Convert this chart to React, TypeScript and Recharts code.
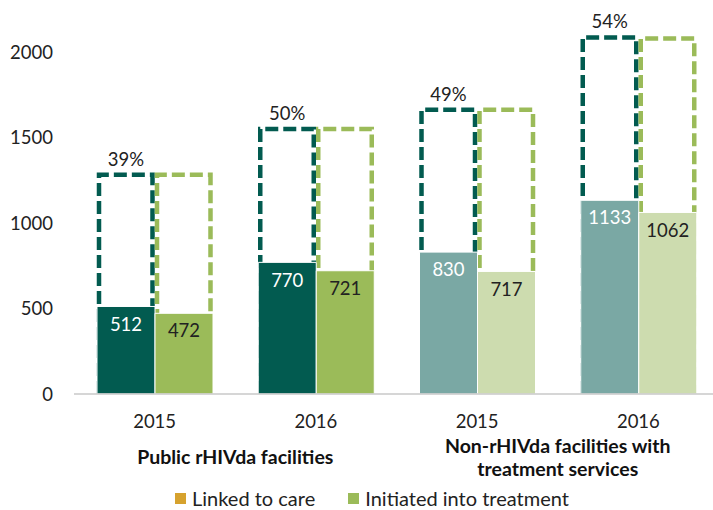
import { BarChart, Bar, XAxis, YAxis, Cell, LabelList, Legend } from "recharts";

const categories = ["2015", "2016", "2015", "2016"];
const groupLabels = [["Public rHIVda facilities"], ["Non-rHIVda facilities with", "treatment services"]];
const linked = [512, 770, 830, 1133];
const initiated = [472, 721, 717, 1062];
const totalLinked = [1282, 1550, 1663, 2086];
const totalInitiated = [1282, 1550, 1663, 2080];
const pctLabels = ["39%", "50%", "49%", "54%"];
const yTicks = [0, 500, 1000, 1500, 2000];
const legendItems = [
  { name: "Linked to care", color: "#d6a22e" },
  { name: "Initiated into treatment", color: "#9bbb59" },
];

const DARK = "#025b50";
const GREEN = "#9bbb59";
const linkedFill = [DARK, DARK, "#7aa8a4", "#7aa8a4"];
const initiatedFill = [GREEN, GREEN, "#cddcaf", "#cddcaf"];

const data = categories.map((cat, i) => ({
  cat,
  linked: linked[i],
  initiated: initiated[i],
  totalLinked: totalLinked[i],
  totalInitiated: totalInitiated[i],
  pct: pctLabels[i],
}));

function DashedBox(props: any) {
  const { x, y, width, height, color } = props;
  if (width == null || height == null) return null;
  const l = x + 2;
  const r = x + width - 2.5;
  const b = y + height;
  return (
    <path
      d={`M${l},${b} L${l},${y} L${r},${y} L${r},${b}`}
      fill="none"
      stroke={color}
      strokeWidth={4.5}
      strokeDasharray="13 5"
    />
  );
}

function YearTick(props: any) {
  const { x, y, payload } = props;
  const idx = payload.index;
  const half = payload.offset ?? 80.6;
  const group = idx % 2 === 0 ? groupLabels[idx / 2] : null;
  return (
    <g>
      <text x={x} y={y + 28} dy="0.35em" textAnchor="middle" fill="#222" fontSize={18.5}>
        {payload.value}
      </text>
      {group &&
        group.map((line, j) => (
          <text
            key={j}
            x={x + half}
            y={y + (group.length === 1 ? 63 : 52 + j * 23)}
            dy="0.35em"
            textAnchor="middle"
            fill="#111"
            fontSize={19.5}
            fontWeight="bold"
          >
            {line}
          </text>
        ))}
    </g>
  );
}

function LegendContent() {
  return (
    <div style={{ height: 24, display: "flex", justifyContent: "center", alignItems: "center", paddingLeft: 25 }}>
      {legendItems.map((it, i) => (
        <div key={it.name} style={{ display: "flex", alignItems: "center", marginLeft: i ? 33 : 0 }}>
          <span style={{ width: 11, height: 11, background: it.color, marginRight: 6, display: "inline-block" }} />
          <span style={{ fontSize: 20, color: "#222" }}>{it.name}</span>
        </div>
      ))}
    </div>
  );
}

export default function App() {
  return (
    <div
      style={{
        position: "absolute",
        left: 0,
        top: 0,
        width: 713,
        height: 510,
        overflow: "hidden",
        background: "#fff",
        fontFamily: "Lato, sans-serif",
      }}
    >
      <BarChart width={720} height={510} data={data} barGap={0} margin={{ top: 35, right: 1, left: 0, bottom: 0 }}>
        <XAxis
          xAxisId="fill"
          dataKey="cat"
          axisLine={{ stroke: "#c8c8c8", strokeWidth: 1.5 }}
          tickLine={false}
          tickSize={0}
          tickMargin={0}
          height={92}
          interval={0}
          tick={<YearTick />}
        />
        <XAxis xAxisId="dash" dataKey="cat" hide height={0} />
        <YAxis
          domain={[0, 2100]}
          ticks={yTicks}
          axisLine={false}
          tickLine={false}
          tickSize={0}
          tickMargin={21}
          width={74}
          tick={{ fill: "#222", fontSize: 18.5 }}
        />
        <Legend verticalAlign="bottom" content={<LegendContent />} />
        <Bar
          xAxisId="dash"
          dataKey="totalLinked"
          barSize={58}
          isAnimationActive={false}
          shape={(p: any) => <DashedBox {...p} color={DARK} />}
        >
          <LabelList dataKey="pct" position="top" offset={9} fill="#222" fontSize={18.5} />
        </Bar>
        <Bar
          xAxisId="dash"
          dataKey="totalInitiated"
          barSize={58}
          isAnimationActive={false}
          shape={(p: any) => <DashedBox {...p} color={GREEN} />}
        />
        <Bar xAxisId="fill" dataKey="linked" barSize={58} stroke="#fff" strokeWidth={1} isAnimationActive={false}>
          {linkedFill.map((c, i) => (
            <Cell key={i} fill={c} />
          ))}
          <LabelList dataKey="linked" position="insideTop" offset={11} fill="#fff" fontSize={18.5} />
        </Bar>
        <Bar xAxisId="fill" dataKey="initiated" barSize={58} stroke="#fff" strokeWidth={1} isAnimationActive={false}>
          {initiatedFill.map((c, i) => (
            <Cell key={i} fill={c} />
          ))}
          <LabelList dataKey="initiated" position="insideTop" offset={11} fill="#222" fontSize={18.5} />
        </Bar>
      </BarChart>
    </div>
  );
}
